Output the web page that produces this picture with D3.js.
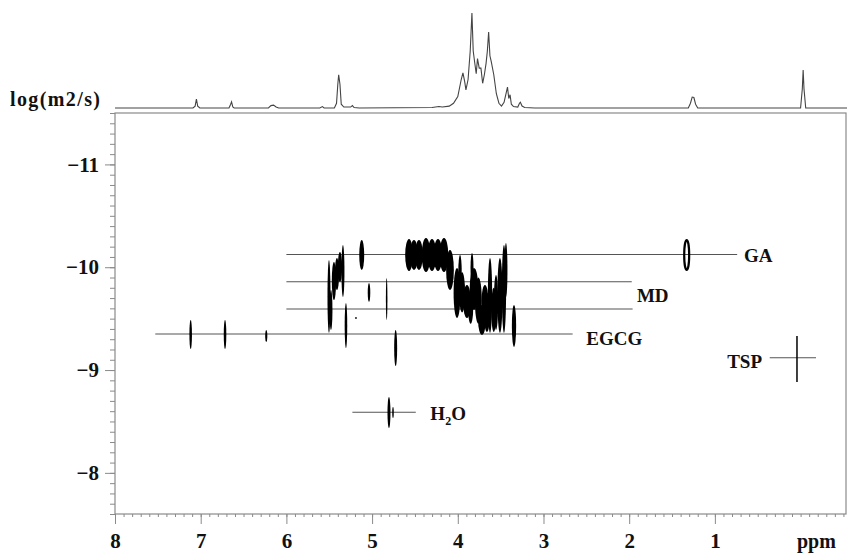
<!DOCTYPE html>
<html>
<head>
<meta charset="utf-8">
<script src="https://cdn.jsdelivr.net/npm/d3@7"></script>
<style>
  body { margin: 0; background: #fff; }
  svg text { font-family: "Liberation Serif", "Times New Roman", serif; font-weight: bold; fill: #111; }
</style>
</head>
<body>
<svg id="dosy"></svg>
<script>
// DOSY map: 1H spectrum on top, log(D) vs chemical shift below

// ---- data ----
const ppmTicks = [8, 7, 6, 5, 4, 3, 2, 1];
const logDTicks = [-11, -10, -9, -8];

// 1D projection, [ppm, relative intensity]
const spectrum = [
  [8.0, 0], [7.09, 0], [7.065, 2], [7.05, 9.5], [7.035, 2], [7.01, 0],
  [6.67, 0], [6.65, 4], [6.64, 6.5], [6.625, 1], [6.61, 0],
  [6.21, 0], [6.18, 2.5], [6.15, 3], [6.12, 1], [6.09, 0],
  [5.61, 0], [5.58, 1.5], [5.56, 0], [5.44, 0], [5.415, 5], [5.40, 25], [5.39, 35],
  [5.375, 25], [5.36, 4], [5.33, 1], [5.25, 1], [5.23, 2.5], [5.21, 0.5], [5.15, 0],
  [4.30, 0.5], [4.22, 1.5], [4.18, 1], [4.10, 2], [4.05, 5], [4.00, 12],
  [3.96, 30], [3.94, 37], [3.92, 28], [3.905, 19], [3.88, 30], [3.855, 60],
  [3.835, 100], [3.82, 60], [3.80, 46], [3.785, 36], [3.77, 52], [3.75, 42],
  [3.73, 42], [3.71, 26], [3.69, 35], [3.67, 47], [3.655, 60], [3.64, 80],
  [3.625, 55], [3.61, 49], [3.58, 35], [3.55, 15], [3.52, 5], [3.49, 2],
  [3.46, 6], [3.43, 18], [3.42, 22], [3.405, 10], [3.39, 14], [3.375, 4],
  [3.35, 1.5], [3.30, 1], [3.28, 5], [3.27, 6], [3.25, 2], [3.22, 0.5], [3.10, 0],
  [1.31, 0], [1.285, 5], [1.265, 11.5], [1.245, 11], [1.225, 4], [1.20, 0],
  [0.0, 0], [-0.02, 20], [-0.03, 40], [-0.04, 20], [-0.06, 0], [-0.55, 0]
];

// component guide lines: [logD, ppm start, ppm end]
const guides = [
  [-10.124, 6.0, 0.74],
  [-9.859, 6.0, 1.97],
  [-9.594, 6.0, 1.96],
  [-9.35, 7.53, 2.66],
  [-8.59, 5.23, 4.49],
  [-9.12, 0.36, -0.18]
];

// labels: [text, ppm, logD baseline, anchor]
const labels = [
  ['GA', 0.66, -10.05, 'start'],
  ['MD', 1.91, -9.66, 'start'],
  ['EGCG', 2.50, -9.24, 'start'],
  ['TSP', 0.45, -9.02, 'end'],
  ['H2O', 4.32, -8.51, 'start']
];

// cross-peaks: [ppm, logD top, logD bottom, ppm width]
const peaks = [
  // EGCG row
  [7.117, -9.487, -9.205, 0.03], [6.716, -9.487, -9.205, 0.03], [6.235, -9.390, -9.273, 0.025],
  [5.305, -9.652, -9.214, 0.03], [4.725, -9.390, -9.039, 0.035], [3.344, -9.633, -9.224, 0.05],
  // water
  [4.803, -8.738, -8.436, 0.035], [4.756, -8.641, -8.534, 0.018],
  // GA row
  [5.121, -10.265, -9.973, 0.058],
  [4.569, -10.274, -9.964, 0.09], [4.511, -10.265, -9.973, 0.09], [4.453, -10.265, -9.973, 0.09],
  [4.371, -10.284, -9.954, 0.10], [4.301, -10.275, -9.963, 0.10], [4.231, -10.275, -9.963, 0.10],
  [4.161, -10.284, -9.954, 0.10],
  // MD cluster
  [4.091, -10.168, -9.779, 0.09], [4.009, -9.993, -9.506, 0.08], [3.974, -10.119, -9.779, 0.04],
  [3.95, -9.95, -9.56, 0.07], [3.893, -9.827, -9.506, 0.09], [3.85, -9.76, -9.45, 0.06],
  [3.834, -10.138, -9.847, 0.035], [3.811, -9.993, -9.584, 0.10], [3.76, -9.90, -9.45, 0.08],
  [3.718, -9.633, -9.341, 0.09], [3.683, -9.827, -9.506, 0.08], [3.66, -9.75, -9.37, 0.07],
  [3.624, -10.090, -9.361, 0.05], [3.58, -9.80, -9.37, 0.06],
  [3.554, -9.924, -9.390, 0.05], [3.508, -10.090, -9.361, 0.06], [3.461, -10.216, -9.361, 0.05],
  [3.438, -10.236, -9.710, 0.035],
  // left column near 5.4 ppm
  [5.503, -10.070, -9.361, 0.035], [5.480, -9.779, -9.390, 0.035], [5.445, -10.051, -9.681, 0.05],
  [5.410, -10.090, -9.779, 0.05], [5.375, -10.148, -9.856, 0.05], [5.340, -10.216, -9.710, 0.035],
  // small ones
  [5.036, -9.847, -9.662, 0.03], [4.830, -9.895, -9.487, 0.018], [5.188, -9.515, -9.497, 0.02]
];

// hollow GA peak and TSP cross
const ringPeak = [1.329, -10.265, -9.973, 0.058];
const tspPeak = [0.042, -9.331, -8.884];

// ---- layout ----
const W = 848, H = 555;
const svg = d3.select('#dosy').attr('width', W).attr('height', H);

const xScale = d3.scaleLinear().domain([8, -0.53]).range([115, 846]);
const yScale = d3.scaleLinear().domain([-11.5, -7.6]).range([113, 514]);
const sScale = d3.scaleLinear().domain([0, 100]).range([108, 13]);

// top spectrum
const specLine = d3.line()
  .x(d => Math.min(xScale(d[0]), 847))
  .y(d => sScale(d[1]));

svg.append('path')
  .datum(spectrum)
  .attr('d', specLine)
  .attr('fill', 'none')
  .attr('stroke', '#444')
  .attr('stroke-width', 1.1);

// frame
svg.append('rect')
  .attr('x', 115).attr('y', 113)
  .attr('width', 846 - 115).attr('height', 514 - 113)
  .attr('fill', 'none')
  .attr('stroke', '#8a8a8a')
  .attr('stroke-width', 1.2);

// y axis
let yMinor = d3.axisLeft(yScale)
  .tickValues(d3.range(-115, -75).map(d => d / 10))
  .tickSize(5).tickFormat('');
let yMinorGroup = svg.append('g').attr('transform', 'translate(115,0)').call(yMinor);

let yAxis = d3.axisLeft(yScale)
  .tickValues(logDTicks).tickSize(10).tickPadding(6)
  .tickFormat(d => '\u2212' + Math.abs(d));
let yAxisGroup = svg.append('g').attr('transform', 'translate(115,0)').call(yAxis);

// x axis
let xMinor = d3.axisBottom(xScale)
  .tickValues(d3.range(-5, 81).map(d => d / 10))
  .tickSize(3).tickFormat('');
let xMinorGroup = svg.append('g').attr('transform', 'translate(0,514)').call(xMinor);

let xAxis = d3.axisBottom(xScale)
  .tickValues(ppmTicks).tickSize(10);
let xAxisGroup = svg.append('g').attr('transform', 'translate(0,514)').call(xAxis);

[yMinorGroup, yAxisGroup, xMinorGroup, xAxisGroup].forEach(g => {
  g.select('.domain').remove();
  g.selectAll('line').attr('stroke', '#8a8a8a');
});
yAxisGroup.selectAll('text').style('font-size', '21px');
xAxisGroup.selectAll('text')
  .style('font-size', '21px')
  .attr('y', 34).attr('dy', 0);

svg.append('text')
  .attr('x', 797).attr('y', 548)
  .style('font-size', '20px')
  .text('ppm');

svg.append('text')
  .attr('x', 10).attr('y', 106)
  .style('font-size', '20px')
  .attr('textLength', 90)
  .text('log(m2/s)');

// guide lines
svg.append('g').selectAll('line')
  .data(guides)
  .enter()
  .append('line')
  .attr('x1', d => xScale(d[1]))
  .attr('x2', d => xScale(d[2]))
  .attr('y1', d => yScale(d[0]))
  .attr('y2', d => yScale(d[0]))
  .attr('stroke', '#555')
  .attr('stroke-width', 1.1);

// cross peaks
svg.append('g').selectAll('ellipse')
  .data(peaks)
  .enter()
  .append('ellipse')
  .attr('cx', d => xScale(d[0]))
  .attr('cy', d => yScale((d[1] + d[2]) / 2))
  .attr('rx', d => Math.abs(xScale(d[0] + d[3] / 2) - xScale(d[0])))
  .attr('ry', d => (yScale(d[2]) - yScale(d[1])) / 2)
  .attr('fill', '#000');

svg.append('ellipse')
  .attr('cx', xScale(ringPeak[0]))
  .attr('cy', yScale((ringPeak[1] + ringPeak[2]) / 2))
  .attr('rx', Math.abs(xScale(ringPeak[0] + ringPeak[3] / 2) - xScale(ringPeak[0])))
  .attr('ry', (yScale(ringPeak[2]) - yScale(ringPeak[1])) / 2)
  .attr('fill', 'none')
  .attr('stroke', '#000')
  .attr('stroke-width', 2.2);

svg.append('line')
  .attr('x1', xScale(tspPeak[0])).attr('x2', xScale(tspPeak[0]))
  .attr('y1', yScale(tspPeak[1])).attr('y2', yScale(tspPeak[2]))
  .attr('stroke', '#000')
  .attr('stroke-width', 1.5);

// component labels
let labelText = svg.append('g').selectAll('text')
  .data(labels)
  .enter()
  .append('text')
  .attr('x', d => xScale(d[1]))
  .attr('y', d => yScale(d[2]))
  .attr('text-anchor', d => d[3])
  .style('font-size', '19px');

labelText.each(function(d) {
  let t = d3.select(this);
  if (d[0] === 'H2O') {
    t.append('tspan').text('H');
    t.append('tspan').attr('dy', 5).style('font-size', '12px').text('2');
    t.append('tspan').attr('dy', -5).text('O');
  } else {
    t.text(d[0]);
  }
});
</script>
</body>
</html>
